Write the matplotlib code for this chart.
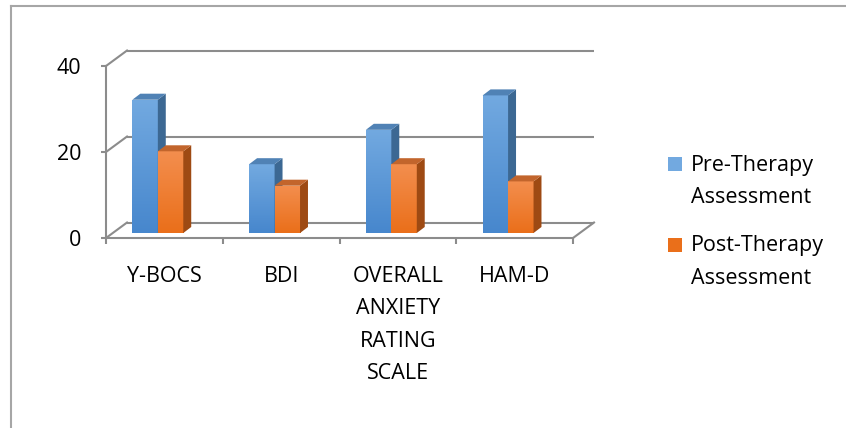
import numpy as np
import matplotlib.pyplot as plt
from matplotlib.patches import Polygon, Rectangle
from matplotlib.colors import LinearSegmentedColormap
from matplotlib.lines import Line2D

plt.rcParams['font.family'] = ['Open Sans', 'DejaVu Sans']

categories = ["Y-BOCS", "BDI", "OVERALL\nANXIETY\nRATING\nSCALE", "HAM-D"]
pre_therapy = [31, 16, 24, 32]
post_therapy = [19, 11, 16, 12]
series_names = ["Pre-Therapy\nAssessment", "Post-Therapy\nAssessment"]
y_ticks = [0, 20, 40]

# face colours: front top, front bottom, side, top
blue = ("#72A9E0", "#4787CD", "#3C6893", "#5082B5")
orange = ("#F38E4E", "#EA6F1A", "#9E4A13", "#C2652C")

grid_col = "#8C8C8C"

W, H = 846, 428
fig = plt.figure(figsize=(W / 100, H / 100), dpi=100)
ax = fig.add_axes([106 / W, (H - 238) / H, 467 / W, 172 / H])
ax.set_xlim(0, 4)
ax.set_ylim(0, 40)

# 3d wall offset (depth) in data units
DX, DY = 0.18, 3.6
# bars stand part way into the depth
bar_dx, bar_dy = -0.056, 1.16
bar_w = 0.218
face_dx, face_dy = 0.068, 1.4

# back wall gridlines + side connectors
for v in y_ticks:
    ax.plot([DX, 4 + DX], [v + DY, v + DY], color=grid_col, lw=1.5,
            clip_on=False, zorder=1, solid_capstyle='butt')
    ax.plot([0, DX], [v, v + DY], color=grid_col, lw=1.5, clip_on=False, zorder=1)
ax.plot([4, 4 + DX], [0, DY], color=grid_col, lw=1.5, clip_on=False, zorder=1)

x = np.arange(len(categories)) + 0.5 + bar_dx
grad = np.linspace(1, 0, 64).reshape(-1, 1)

for k, (vals, cols) in enumerate([(pre_therapy, blue), (post_therapy, orange)]):
    zb = 3 + k
    xs = x + (k - 0.5) * bar_w
    bars = ax.bar(xs, vals, width=bar_w, bottom=bar_dy, color=cols[1],
                  linewidth=0, clip_on=False, zorder=zb)
    cmap = LinearSegmentedColormap.from_list("g%d" % k, [cols[1], cols[0]])
    for b in bars:
        x0, y0 = b.get_x(), b.get_y()
        x1, y1 = x0 + b.get_width(), y0 + b.get_height()
        im = ax.imshow(grad, extent=(x0, x1, y0, y1), aspect='auto', cmap=cmap,
                       zorder=zb + 0.1, interpolation='bilinear')
        im.set_clip_path(b)
        side = Polygon([(x1, y0), (x1 + face_dx, y0 + face_dy),
                        (x1 + face_dx, y1 + face_dy), (x1, y1)],
                       closed=True, color=cols[2], lw=0, zorder=zb + 0.2)
        top = Polygon([(x0, y1), (x0 + face_dx, y1 + face_dy),
                       (x1 + face_dx, y1 + face_dy), (x1, y1)],
                      closed=True, color=cols[3], lw=0, zorder=zb + 0.2)
        ax.add_patch(side)
        ax.add_patch(top)

ax.set_xlim(0, 4)
ax.set_ylim(0, 40)

for s in ["top", "right"]:
    ax.spines[s].set_visible(False)
for s in ["left", "bottom"]:
    ax.spines[s].set_color(grid_col)
    ax.spines[s].set_linewidth(1.5)
    ax.spines[s].set_zorder(2)

ax.set_yticks(y_ticks)
ax.set_yticklabels([str(t) for t in y_ticks])
ax.tick_params(axis='y', length=3.6, width=1.5, color=grid_col, pad=14,
               labelsize=15.5)

ax.set_xticks(np.arange(len(categories)) + 0.5)
ax.set_xticklabels(categories)
ax.set_xticks(np.arange(len(categories) + 1), minor=True)
ax.tick_params(axis='x', which='major', length=0, pad=20, labelsize=15.5)
ax.tick_params(axis='x', which='minor', length=4.3, width=1.5, color=grid_col)
for lab in ax.get_xticklabels():
    lab.set_linespacing(1.72)
    lab.set_va('top')

# legend
legend_cols = [blue[0], orange[1]]
for i, (name, c) in enumerate(zip(series_names, legend_cols)):
    top_px = 157 + i * 81
    fig.add_artist(Rectangle((668 / W, 1 - (top_px + 14) / H), 14 / W, 14 / H,
                             transform=fig.transFigure, color=c, lw=0))
    fig.text(690.5 / W, 1 - (top_px - 2.5) / H, name, fontsize=15.5,
             va='top', ha='left', linespacing=1.72)

# outer frame
fig.add_artist(Line2D([10.5 / W, 10.5 / W], [0, 1 - 6 / H], color="#A6A6A6", lw=1.5))
fig.add_artist(Line2D([10.5 / W, 1], [1 - 6 / H, 1 - 6 / H], color="#A6A6A6", lw=1.5))

fig.savefig("out.png", dpi=100)
